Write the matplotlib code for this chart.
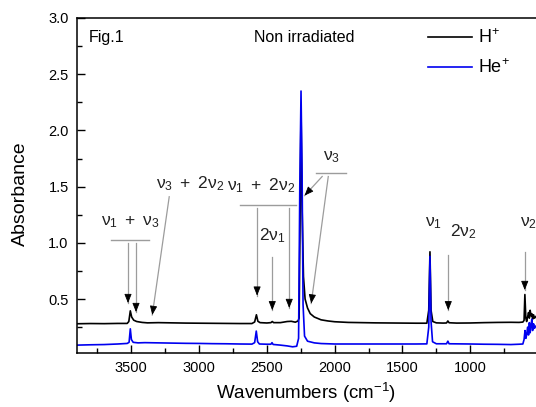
import numpy as np
import matplotlib
matplotlib.use("Agg")
import matplotlib.pyplot as plt

plt.rcParams["font.family"] = ["Liberation Sans", "DejaVu Sans"]
plt.rcParams["mathtext.fontset"] = "custom"
plt.rcParams["mathtext.rm"] = "Liberation Sans"
plt.rcParams["mathtext.it"] = "Liberation Sans:italic"
plt.rcParams["mathtext.bf"] = "Liberation Sans:bold"

BLUE = "#0000f0"
GRAY = "#9c9c9c"
TXT = "#222222"

# H+ irradiated spectrum (wavenumber, absorbance)
h_wn = [3900, 3800, 3700, 3600, 3530, 3518, 3507, 3497, 3482, 3460, 3420, 3380,
        3300, 3200, 3100, 3000, 2900, 2800, 2700, 2610, 2590, 2577, 2566, 2550,
        2500, 2470, 2460, 2450, 2400, 2350, 2320, 2290, 2270, 2262, 2255, 2248,
        2240, 2230, 2218, 2200, 2180, 2150, 2100, 2050, 2000, 1900, 1800, 1700,
        1600, 1500, 1400, 1320, 1306, 1297, 1289, 1276, 1250, 1200, 1175, 1165,
        1156, 1100, 1000, 900, 800, 700, 640, 612, 603, 597, 590, 584, 577, 570,
        564, 558, 552, 546, 540, 533, 526, 515]
h_abs = [0.280, 0.282, 0.281, 0.283, 0.283, 0.300, 0.395, 0.340, 0.312, 0.300,
         0.292, 0.288, 0.290, 0.288, 0.286, 0.285, 0.284, 0.283, 0.282, 0.282,
         0.296, 0.360, 0.302, 0.290, 0.287, 0.290, 0.300, 0.290, 0.290, 0.300,
         0.302, 0.294, 0.305, 0.33, 1.20, 2.20, 1.30, 0.70, 0.50, 0.42, 0.37,
         0.340, 0.315, 0.305, 0.298, 0.292, 0.290, 0.288, 0.287, 0.286, 0.285,
         0.285, 0.40, 0.92, 0.40, 0.300, 0.288, 0.286, 0.287, 0.305, 0.289,
         0.286, 0.287, 0.290, 0.292, 0.293, 0.292, 0.295, 0.310, 0.540, 0.330,
         0.300, 0.340, 0.380, 0.330, 0.400, 0.350, 0.370, 0.320, 0.360, 0.330,
         0.345]

# He+ irradiated spectrum
he_wn = [3900, 3800, 3700, 3600, 3530, 3516, 3507, 3499, 3486, 3450, 3400, 3300,
         3200, 3100, 3000, 2900, 2800, 2700, 2610, 2590, 2578, 2568, 2555, 2500,
         2470, 2462, 2454, 2400, 2350, 2310, 2280, 2266, 2257, 2248, 2240, 2233,
         2222, 2200, 2150, 2100, 2000, 1800, 1600, 1400, 1320, 1306, 1297, 1289,
         1278, 1250, 1175, 1165, 1156, 1000, 900, 800, 700, 640, 612, 603, 596,
         590, 584, 577, 570, 564, 558, 552, 546, 540, 533, 526, 515]
he_abs = [0.090, 0.093, 0.095, 0.100, 0.105, 0.115, 0.235, 0.140, 0.115, 0.110,
          0.112, 0.110, 0.108, 0.106, 0.105, 0.103, 0.102, 0.100, 0.099, 0.112,
          0.215, 0.120, 0.100, 0.098, 0.098, 0.112, 0.096, 0.090, 0.083, 0.075,
          0.080, 0.150, 1.50, 2.35, 1.60, 0.45, 0.170, 0.125, 0.110, 0.104,
          0.100, 0.100, 0.100, 0.100, 0.101, 0.25, 0.88, 0.30, 0.120, 0.102,
          0.102, 0.125, 0.102, 0.100, 0.098, 0.097, 0.095, 0.098, 0.100, 0.140,
          0.220, 0.150, 0.180, 0.250, 0.180, 0.290, 0.200, 0.260, 0.320, 0.220,
          0.280, 0.240, 0.260]

# band assignments: label, x, y
labels = [r"$\mathregular{\nu_1\ +\ \nu_3}$",
          r"$\mathregular{\nu_3\ +\ 2\nu_2}$",
          r"$\mathregular{\nu_1\ +\ 2\nu_2}$",
          r"$\mathregular{2\nu_1}$",
          r"$\mathregular{\nu_3}$",
          r"$\mathregular{\nu_1}$",
          r"$\mathregular{2\nu_2}$",
          r"$\mathregular{\nu_2}$"]
label_x = [3507, 3065, 2540, 2460, 2025, 1273, 1052, 572]
label_y = [1.185, 1.53, 1.505, 1.06, 1.763, 1.176, 1.096, 1.176]

# underline bars: x from, x to, y
bars = [(3649, 3369, 1.025), (2698, 2285, 1.336), (2137, 1916, 1.62)]

# arrows: start -> tip
arrows = [((3524, 1.0), (3524, 0.464)),
          ((3465, 1.0), (3465, 0.384)),
          ((3220, 1.41), (3345, 0.358)),
          ((2572, 1.31), (2572, 0.53)),
          ((2335, 1.31), (2335, 0.42)),
          ((2460, 0.87), (2460, 0.40)),
          ((2092, 1.59), (2222, 1.42)),
          ((2047, 1.59), (2173, 0.46)),
          ((1162, 0.89), (1162, 0.40)),
          ((598, 0.92), (598, 0.58))]

fig = plt.figure(figsize=(5.36, 4.07), dpi=100)
ax = fig.add_axes([0.1437, 0.1327, 0.8563, 0.8231])

ax.plot(h_wn, h_abs, color="black", lw=1.2, label=r"H$^{+}$")
ax.plot(he_wn, he_abs, color=BLUE, lw=1.2, label=r"He$^{+}$")

ax.set_xlim(3900, 515)
ax.set_ylim(0.02, 3.0)
ax.set_xticks([3500, 3000, 2500, 2000, 1500, 1000])
ax.set_xticks(np.arange(3750, 515, -250), minor=True)
ax.set_yticks([0.5, 1.0, 1.5, 2.0, 2.5, 3.0])
ax.set_yticks(np.arange(0.25, 3.0, 0.25), minor=True)
ax.tick_params(which="both", direction="in", top=False, right=False,
               labelsize=10.5, width=1.0)
ax.tick_params(which="major", length=6)
ax.tick_params(which="minor", length=3.5)
ax.tick_params(axis="y", pad=6)
ax.tick_params(axis="x", pad=6)
ax.spines["right"].set_visible(False)
for s in ("left", "bottom", "top"):
    ax.spines[s].set_linewidth(1.1)

ax.set_xlabel(r"Wavenumbers (cm$^{-1}$)", fontsize=13.5, labelpad=4)
ax.set_ylabel("Absorbance", fontsize=14)
ax.yaxis.set_label_coords(-0.104, 0.475)

ax.text(0.025, 0.943, "Fig.1", transform=ax.transAxes, fontsize=11.5, va="center")
ax.text(0.495, 0.943, "Non irradiated", transform=ax.transAxes, fontsize=11.5,
        ha="center", va="center")

ax.legend(loc="upper left", bbox_to_anchor=(0.765, 0.968), frameon=False,
          fontsize=13, handlelength=2.45, handletextpad=0.3, borderpad=0,
          borderaxespad=0, labelspacing=0.6)

for t, x, y in zip(labels, label_x, label_y):
    ax.text(x, y, t, fontsize=12.5, color=TXT, ha="center", va="center")

for x0, x1, y in bars:
    ax.plot([x0, x1], [y, y], color=GRAY, lw=1.0)


def draw_arrow(start, tip):
    ax.plot([start[0], tip[0]], [start[1], tip[1]], color=GRAY, lw=0.9)
    p0 = ax.transData.transform(start)
    p1 = ax.transData.transform(tip)
    f = 7.0 / np.hypot(*(p1 - p0))
    back = (tip[0] + (start[0] - tip[0]) * f, tip[1] + (start[1] - tip[1]) * f)
    ax.annotate("", xy=tip, xytext=back,
                arrowprops=dict(arrowstyle="-|>,head_length=0.55,head_width=0.22",
                                color="black", lw=0.6, shrinkA=0, shrinkB=0))


for start, tip in arrows:
    draw_arrow(start, tip)

fig.savefig("out.png", dpi=100)
